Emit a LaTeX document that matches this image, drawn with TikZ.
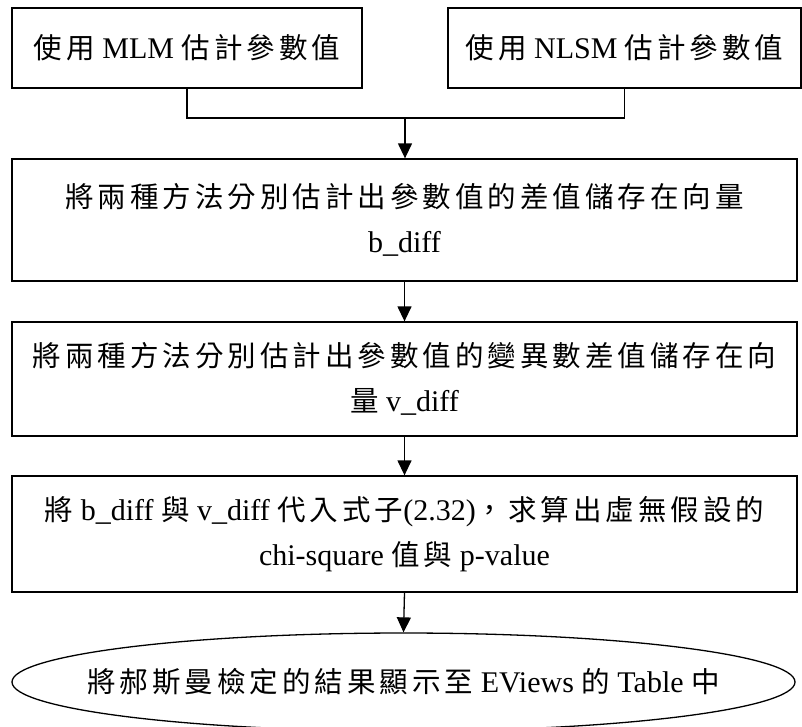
\documentclass[tikz,border=0pt]{standalone}
\usepackage{fontspec}
\setmainfont{Liberation Serif}
\newfontfamily\cjk{Noto Sans CJK TC}[Scale=0.95,LetterSpace=14]
\newcommand\zh[1]{{\cjk #1}}
\usetikzlibrary{arrows.meta,shapes.geometric}
\begin{document}
\begin{tikzpicture}[x=1pt,y=-1pt,
  every node/.style={font=\fontsize{30}{45}\selectfont, align=center, inner sep=0pt},
  stepbox/.style={draw, rectangle, line width=1.3pt},
  endcap/.style={draw, ellipse, line width=1.3pt},
  link/.style={line width=1.3pt},
  flow/.style={line width=1.3pt, -{Triangle[length=15pt,width=14pt]}}
]
\useasboundingbox (0,0) rectangle (802,726);

% two estimation methods
\node[stepbox, minimum width=350pt, minimum height=80pt] (mlm) at (187,48)
  {\zh{使用} MLM \zh{估計參數值}};
\node[stepbox, minimum width=353pt, minimum height=80pt] (nlsm) at (624.5,48)
  {\zh{使用} NLSM \zh{估計參數值}};

% processing steps
\node[stepbox, minimum width=785pt, minimum height=122pt] (bdiff) at (404.5,220)
  {\zh{將兩種方法分別估計出參數值的差值儲存在向量}\\b\_diff};
\node[stepbox, minimum width=785pt, minimum height=114pt] (vdiff) at (404.5,379)
  {\zh{將兩種方法分別估計出參數值的變異數差值儲存在向}\\\zh{量} v\_diff};
\node[stepbox, minimum width=785pt, minimum height=116pt] (chisq) at (404.5,534)
  {\zh{將} b\_diff \zh{與} v\_diff \zh{代入式子}(2.32)\zh{，求算出虛無假設的}\\chi-square \zh{值與} p-value};

% result: ellipse outline with its caption inside
\node[endcap, minimum width=783pt, minimum height=98pt] (table) at (403.5,682) {};
\node (tabletext) at (table.center)
  {\zh{將郝斯曼檢定的結果顯示至} EViews \zh{的} Table \zh{中}};

% connectors
\coordinate (join) at (405,118);
\draw[link] (mlm.south) |- (join);
\draw[link] (nlsm.south) |- (join);
\draw[flow] (join) -- (join |- bdiff.north);
\draw[flow] (bdiff.south) -- (vdiff.north);
\draw[flow] (vdiff.south) -- (chisq.north);
\draw[flow] (chisq.south) -- (table.north);
\end{tikzpicture}
\end{document}
